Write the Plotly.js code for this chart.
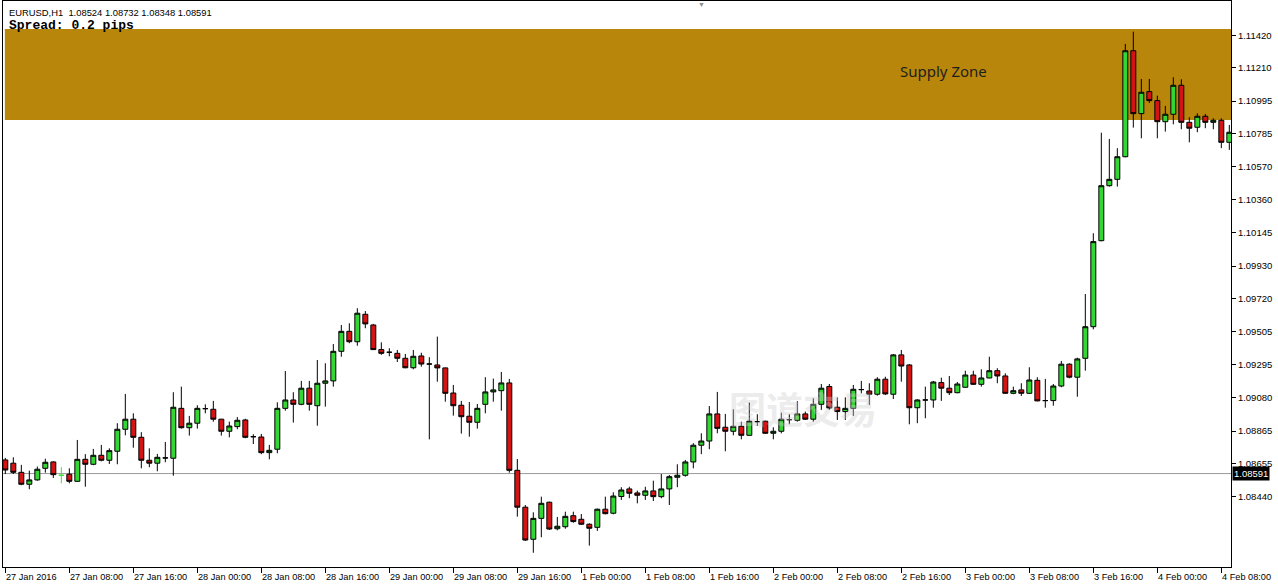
<!DOCTYPE html>
<html><head><meta charset="utf-8">
<script src="https://cdn.plot.ly/plotly-3.0.1.min.js"></script>
<style>html,body{margin:0;padding:0;background:#fff;overflow:hidden}#chart{width:1278px;height:586px}</style>
</head><body><div id="chart"></div>
<script>
const symbolInfo = "EURUSD,H1  1.08524 1.08732 1.08348 1.08591";
const spreadInfo = "Spread: 0.2 pips";
const zoneLabel = "Supply Zone";
const zoneTop = 1.11460;
const zoneBottom = 1.10873;
const bidPrice = 1.08591;
const watermark = "图道交易";

const openP = [
1.08679,1.08658,1.08599,1.08522,1.08550,1.08625,1.08666,1.08580,1.08587,1.08541,
1.08683,1.08651,1.08709,1.08677,1.08735,1.08877,1.08942,1.08825,1.08677,1.08658,
1.08692,1.08690,1.09012,1.08887,1.08916,1.09010,1.09006,1.08942,1.08864,1.08894,
1.08937,1.08829,1.08827,1.08726,1.08748,1.09012,1.09066,1.09038,1.09142,1.09029,
1.09174,1.09189,1.09380,1.09509,1.09442,1.09619,1.09550,1.09391,1.09374,1.09367,
1.09335,1.09274,1.09350,1.09298,1.09292,1.09273,1.09111,1.09032,1.08961,1.08922,
1.09038,1.09118,1.09126,1.09176,1.08612,1.08374,1.08167,1.08302,1.08406,1.08235,
1.08248,1.08319,1.08296,1.08264,1.08244,1.08361,1.08335,1.08443,1.08492,1.08466,
1.08451,1.08479,1.08442,1.08492,1.08567,1.08580,1.08666,1.08774,1.08801,1.08976,
1.08890,1.08864,1.08896,1.08838,1.08926,1.08929,1.08851,1.08864,1.08939,1.08935,
1.08976,1.08942,1.09038,1.09153,1.09019,1.08991,1.09012,1.09133,1.09124,1.09103,
1.09200,1.09103,1.09357,1.09292,1.09016,1.09066,1.09066,1.09178,1.09142,1.09113,
1.09148,1.09227,1.09167,1.09208,1.09255,1.09221,1.09109,1.09131,1.09109,1.09193,
1.09062,1.09062,1.09156,1.09297,1.09213,1.09335,1.09539,1.10094,1.10449,1.10490,
1.10636,1.11320,1.10914,1.11056,1.10998,1.10862,1.10910,1.11097,1.10858,1.10826,
1.10897,1.10858,1.10871,1.10729];
const highP = [
1.08692,1.08696,1.08647,1.08610,1.08636,1.08687,1.08670,1.08632,1.08625,1.08808,
1.08716,1.08750,1.08776,1.08754,1.08916,1.09105,1.08980,1.08858,1.08754,1.08718,
1.08795,1.09116,1.09152,1.08963,1.09032,1.09038,1.09060,1.08944,1.08926,1.08956,
1.08945,1.08845,1.08847,1.08776,1.09051,1.09253,1.09116,1.09189,1.09189,1.09324,
1.09303,1.09427,1.09550,1.09561,1.09658,1.09640,1.09557,1.09438,1.09400,1.09389,
1.09363,1.09389,1.09371,1.09342,1.09475,1.09275,1.09163,1.09060,1.09053,1.09040,
1.09213,1.09204,1.09247,1.09202,1.08685,1.08388,1.08341,1.08442,1.08410,1.08311,
1.08345,1.08345,1.08330,1.08270,1.08365,1.08442,1.08470,1.08503,1.08506,1.08481,
1.08506,1.08545,1.08588,1.08582,1.08651,1.08679,1.08787,1.08851,1.09027,1.09118,
1.08976,1.09006,1.08926,1.09049,1.08974,1.08932,1.08890,1.08984,1.08974,1.09058,
1.08991,1.09077,1.09169,1.09169,1.09083,1.09083,1.09163,1.09189,1.09174,1.09213,
1.09216,1.09363,1.09389,1.09298,1.09071,1.09152,1.09189,1.09210,1.09221,1.09182,
1.09255,1.09255,1.09264,1.09345,1.09271,1.09238,1.09152,1.09174,1.09277,1.09213,
1.09202,1.09169,1.09318,1.09303,1.09339,1.09750,1.10142,1.10791,1.10751,1.10691,
1.11364,1.11443,1.11138,1.11138,1.11030,1.10964,1.11149,1.11136,1.10891,1.10916,
1.10912,1.10884,1.10884,1.10841];
const lowP = [
1.08588,1.08588,1.08516,1.08490,1.08545,1.08597,1.08563,1.08528,1.08528,1.08538,
1.08506,1.08645,1.08670,1.08653,1.08651,1.08838,1.08758,1.08625,1.08632,1.08606,
1.08664,1.08577,1.08881,1.08836,1.08881,1.08980,1.08926,1.08836,1.08825,1.08877,
1.08819,1.08782,1.08716,1.08683,1.08722,1.08997,1.08920,1.09032,1.08997,1.08900,
1.09023,1.09152,1.09345,1.09432,1.09416,1.09529,1.09389,1.09357,1.09348,1.09311,
1.09271,1.09264,1.09281,1.08812,1.09184,1.09055,1.08965,1.08849,1.08829,1.08881,
1.08980,1.09055,1.08997,1.08597,1.08313,1.08156,1.08080,1.08180,1.08227,1.08225,
1.08235,1.08274,1.08259,1.08126,1.08221,1.08328,1.08328,1.08421,1.08432,1.08399,
1.08421,1.08414,1.08432,1.08388,1.08503,1.08571,1.08625,1.08716,1.08748,1.08851,
1.08735,1.08838,1.08812,1.08836,1.08898,1.08848,1.08812,1.08851,1.08909,1.08926,
1.08937,1.08926,1.09002,1.09002,1.08937,1.08937,1.08963,1.09109,1.09034,1.09094,
1.09098,1.09072,1.09184,1.08909,1.08916,1.08948,1.09016,1.09060,1.09098,1.09109,
1.09145,1.09163,1.09152,1.09206,1.09174,1.09107,1.09103,1.09092,1.09105,1.09058,
1.09016,1.09029,1.09148,1.09206,1.09087,1.09255,1.09522,1.10090,1.10443,1.10443,
1.10632,1.10824,1.10755,1.10983,1.10755,1.10798,1.10845,1.10813,1.10729,1.10794,
1.10820,1.10813,1.10691,1.10680];
const closeP = [
1.08614,1.08599,1.08522,1.08550,1.08619,1.08664,1.08584,1.08580,1.08541,1.08683,
1.08651,1.08709,1.08677,1.08739,1.08877,1.08942,1.08825,1.08677,1.08658,1.08696,
1.08692,1.09019,1.08887,1.08916,1.09012,1.09010,1.08942,1.08864,1.08898,1.08935,
1.08825,1.08829,1.08726,1.08741,1.09012,1.09066,1.09038,1.09142,1.09038,1.09174,
1.09189,1.09380,1.09509,1.09442,1.09626,1.09557,1.09391,1.09367,1.09374,1.09335,
1.09274,1.09348,1.09298,1.09298,1.09273,1.09109,1.09029,1.08958,1.08922,1.09012,
1.09118,1.09131,1.09176,1.08612,1.08374,1.08162,1.08302,1.08399,1.08233,1.08251,
1.08315,1.08281,1.08264,1.08238,1.08361,1.08332,1.08446,1.08485,1.08464,1.08451,
1.08479,1.08442,1.08492,1.08571,1.08580,1.08666,1.08774,1.08801,1.08976,1.08883,
1.08864,1.08896,1.08838,1.08929,1.08926,1.08851,1.08864,1.08942,1.08939,1.08976,
1.08942,1.09038,1.09142,1.09014,1.08991,1.09012,1.09135,1.09133,1.09103,1.09200,
1.09105,1.09357,1.09285,1.09016,1.09066,1.09066,1.09182,1.09142,1.09113,1.09169,
1.09227,1.09167,1.09208,1.09255,1.09221,1.09109,1.09126,1.09109,1.09195,1.09060,
1.09062,1.09156,1.09297,1.09213,1.09331,1.09539,1.10088,1.10449,1.10490,1.10636,
1.11320,1.10914,1.11052,1.10998,1.10862,1.10910,1.11097,1.10858,1.10820,1.10897,
1.10858,1.10871,1.10729,1.10794];

const greenDojiBars = [7];

const timeLabels = ["27 Jan 2016","27 Jan 08:00","27 Jan 16:00","28 Jan 00:00","28 Jan 08:00",
"28 Jan 16:00","29 Jan 00:00","29 Jan 08:00","29 Jan 16:00","1 Feb 00:00","1 Feb 08:00",
"1 Feb 16:00","2 Feb 00:00","2 Feb 08:00","2 Feb 16:00","3 Feb 00:00","3 Feb 08:00",
"3 Feb 16:00","4 Feb 00:00","4 Feb 08:00"];
const timeLabelBars = [0,8,16,24,32,40,48,56,64,72,80,88,96,104,112,120,128,136,144,152];

const priceTicks = [1.11420,1.11210,1.10995,1.10785,1.10570,1.10360,1.10145,1.09930,
1.09720,1.09505,1.09295,1.09080,1.08865,1.08655,1.08440];

// ---------- build traces ----------
const bars = openP.map((_, i) => i);
const isGreenDoji = i => greenDojiBars.indexOf(i) >= 0;
const pick = (arr, keep) => arr.map((v, i) => keep(i) ? v : null);

const GREEN = '#33d633', RED = '#d41414';
const mainTrace = {
  type: 'candlestick', x: bars,
  open: pick(openP, i => !isGreenDoji(i)), high: pick(highP, i => !isGreenDoji(i)),
  low: pick(lowP, i => !isGreenDoji(i)), close: pick(closeP, i => !isGreenDoji(i)),
  increasing: {line: {color: '#000', width: 1}, fillcolor: GREEN},
  decreasing: {line: {color: '#000', width: 1}, fillcolor: RED},
  whiskerwidth: 0, hoverinfo: 'skip', showlegend: false
};
const dojiTrace = {
  type: 'candlestick', x: bars,
  open: pick(openP, isGreenDoji), high: pick(highP, isGreenDoji),
  low: pick(lowP, isGreenDoji), close: pick(closeP, isGreenDoji),
  increasing: {line: {color: '#3ee03e', width: 1}, fillcolor: '#3ee03e'},
  decreasing: {line: {color: '#3ee03e', width: 1}, fillcolor: '#3ee03e'},
  whiskerwidth: 0, hoverinfo: 'skip', showlegend: false
};

const labelFont = {family: 'Liberation Sans, Arial, sans-serif', size: 9.2, color: '#000'};
const annotations = timeLabels.map((t, k) => ({
  x: timeLabelBars[k], xref: 'x', y: 0, yref: 'paper',
  xanchor: 'left', yanchor: 'top', yshift: -3, xshift: -1,
  text: t, showarrow: false, font: labelFont
}));
annotations.push(
  {x: 0, xref: 'paper', y: 1, yref: 'paper', xanchor: 'left', yanchor: 'top', xshift: 4, yshift: -4,
   text: symbolInfo.replace('  ', '&nbsp; '), showarrow: false,
   font: {family: 'Liberation Sans, Arial, sans-serif', size: 9.4, color: '#000'}},
  {x: 0, xref: 'paper', y: 1, yref: 'paper', xanchor: 'left', yanchor: 'top', xshift: 4, yshift: -15,
   text: '<b>' + spreadInfo + '</b>', showarrow: false,
   font: {family: 'Liberation Mono, Courier New, monospace', size: 13, color: '#000'}},
  {x: 0.7655, xref: 'paper', y: 0.8763, yref: 'paper', xanchor: 'center', yanchor: 'middle',
   text: zoneLabel, showarrow: false,
   font: {family: 'Noto Sans, Open Sans, sans-serif', size: 15, color: '#1e1e1e'}},
  {x: 0.6515, xref: 'paper', y: 0.281, yref: 'paper', xanchor: 'center', yanchor: 'middle',
   text: '<b>' + watermark + '</b>', showarrow: false,
   font: {family: 'Noto Sans CJK SC, sans-serif', size: 37, color: 'rgba(205,205,205,0.4)'}},
  {x: 1, xref: 'paper', y: bidPrice, yref: 'y', xanchor: 'left', yanchor: 'middle', xshift: 1,
   text: bidPrice.toFixed(5), showarrow: false, bgcolor: '#000', borderpad: 1,
   font: {family: 'Liberation Sans, Arial, sans-serif', size: 9.5, color: '#fff'}},
  {x: 0.5685, xref: 'paper', y: 1, yref: 'paper', xanchor: 'center', yanchor: 'top', yshift: 3,
   text: '▼', showarrow: false, font: {size: 7, color: '#8c8c8c'}}
);

const layout = {
  width: 1278, height: 586,
  margin: {l: 3, r: 47, t: 1, b: 19, pad: 0},
  paper_bgcolor: '#fff', plot_bgcolor: '#fff',
  showlegend: false, dragmode: false, hovermode: false,
  boxgap: 0.38, boxgroupgap: 0,
  xaxis: {
    type: 'linear', range: [-0.29, 153.21], rangeslider: {visible: false},
    showgrid: false, zeroline: false, showline: true, mirror: true,
    linecolor: '#000', linewidth: 1,
    tickmode: 'array', tickvals: timeLabelBars, ticks: 'outside', ticklen: 5,
    tickcolor: '#000', showticklabels: false, fixedrange: true
  },
  yaxis: {
    side: 'right', range: [1.07988, 1.11641],
    showgrid: false, zeroline: false, showline: true, mirror: true,
    linecolor: '#000', linewidth: 1,
    tickmode: 'array', tickvals: priceTicks, ticktext: priceTicks.map(v => v.toFixed(5)),
    ticks: 'outside', ticklen: 4, tickcolor: '#000',
    tickfont: {family: 'Liberation Sans, Arial, sans-serif', size: 9.5, color: '#000'},
    fixedrange: true
  },
  shapes: [
    {type: 'rect', xref: 'paper', x0: 0.0015, x1: 1, yref: 'y', y0: zoneBottom, y1: zoneTop,
     fillcolor: '#b8860b', line: {width: 0}, layer: 'below'},
    {type: 'line', xref: 'paper', x0: 0, x1: 1, yref: 'y', y0: bidPrice, y1: bidPrice,
     line: {color: '#9a9a9a', width: 1}, layer: 'below'}
  ],
  annotations: annotations
};

Plotly.newPlot('chart', [mainTrace, dojiTrace], layout, {displayModeBar: false, staticPlot: true});
</script>
</body></html>
